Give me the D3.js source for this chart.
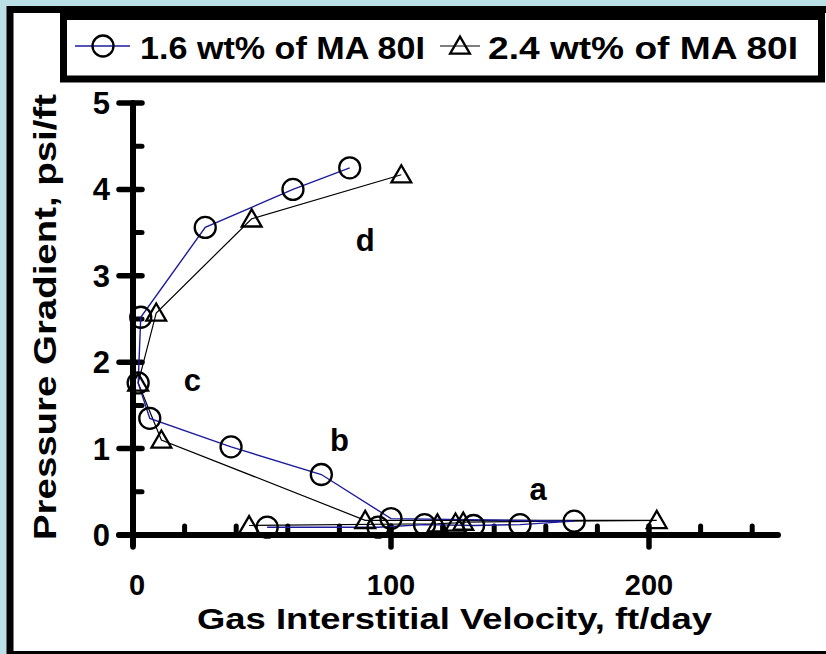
<!DOCTYPE html>
<meta charset="utf-8">
<script src="https://d3js.org/d3.v7.min.js"></script>
<style>
  body { margin: 0; background: #badfe4; }
  text { font-family: "Liberation Sans", Arial, sans-serif; font-weight: bold; fill: #000; }
</style>
<div id="chart"></div>
<script>
// 1.6 wt% of MA 80I (circles), in the order the line joins them
var velA = [84, 62, 28, 3, 2, 6.5, 38, 73, 100, 171, 150, 132, 113, 95, 52];
var gradA = [4.25, 4.0, 3.56, 2.52, 1.76, 1.35, 1.02, 0.70, 0.19, 0.16, 0.12, 0.11, 0.12, 0.09, 0.09];
// 2.4 wt% of MA 80I (triangles)
var velB = [104, 46, 9, 2, 11, 90, 203, 128, 125, 118, 45];
var gradB = [4.17, 3.66, 2.57, 1.76, 1.10, 0.17, 0.17, 0.15, 0.14, 0.13, 0.11];

var xTicks = [0, 100, 200];
var yTicks = [0, 1, 2, 3, 4, 5];
var regions = [{t: "d", x: 90, y: 3.29}, {t: "c", x: 23, y: 1.67}, {t: "b", x: 80, y: 0.97}, {t: "a", x: 157, y: 0.40}];

var width = 826, height = 654;
var svg = d3.select("#chart").append("svg").attr("width", width).attr("height", height);

svg.append("rect").attr("width", width).attr("height", height).attr("fill", "#badfe4");
// white panel
svg.append("rect").attr("x", 10).attr("y", 9.5).attr("width", 830).attr("height", 645)
  .attr("fill", "white").attr("stroke", "black").attr("stroke-width", 7);

var x = d3.scaleLinear().domain([0, 250]).range([133, 778]);
var y = d3.scaleLinear().domain([0, 5]).range([535, 103]);

var axes = svg.append("g").attr("stroke", "black").attr("stroke-linecap", "round");
// y axis line + ticks
axes.append("line").attr("x1", x(0)).attr("x2", x(0)).attr("y1", y(5)).attr("y2", y(0) + 10).attr("stroke-width", 6);
axes.selectAll(".ymaj").data(yTicks).enter().append("line")
  .attr("x1", x(0) - 14).attr("x2", x(0) + 9).attr("y1", d => y(d)).attr("y2", d => y(d)).attr("stroke-width", 5.5);
axes.selectAll(".ymin").data(d3.range(0.5, 5, 1)).enter().append("line")
  .attr("x1", x(0)).attr("x2", x(0) + 9).attr("y1", d => y(d)).attr("y2", d => y(d)).attr("stroke-width", 5);
// x axis line + ticks
axes.append("line").attr("x1", x(0) - 14).attr("x2", x(250)).attr("y1", y(0)).attr("y2", y(0)).attr("stroke-width", 6);
axes.selectAll(".xmaj").data(xTicks).enter().append("line")
  .attr("x1", d => x(d)).attr("x2", d => x(d)).attr("y1", y(0) - 9).attr("y2", y(0) + 12).attr("stroke-width", 5.5);
axes.selectAll(".xmin").data(d3.range(20, 250, 20).filter(d => d % 100 != 0)).enter().append("line")
  .attr("x1", d => x(d)).attr("x2", d => x(d)).attr("y1", y(0) - 9).attr("y2", y(0)).attr("stroke-width", 5);

// tick labels
svg.selectAll(".ylab").data(yTicks).enter().append("text")
  .attr("x", 110).attr("y", d => y(d) + 11).attr("text-anchor", "end")
  .style("font-size", "31px").text(d => d);
svg.selectAll(".xlab").data(xTicks).enter().append("text")
  .attr("x", d => x(d) + (d == 0 ? 4 : 0)).attr("y", 595).attr("text-anchor", "middle")
  .style("font-size", "29px").text(d => d);

// axis titles
svg.append("text").attr("x", 197).attr("y", 629).style("font-size", "30px")
  .attr("textLength", 515).attr("lengthAdjust", "spacingAndGlyphs")
  .text("Gas Interstitial Velocity, ft/day");
svg.append("text").attr("transform", "translate(56,540) rotate(-90)").style("font-size", "31px")
  .attr("textLength", 446).attr("lengthAdjust", "spacingAndGlyphs")
  .text("Pressure Gradient, psi/ft");

// series
var ptsA = velA.map((v, i) => [v, gradA[i]]);
var ptsB = velB.map((v, i) => [v, gradB[i]]);
var line = d3.line().x(d => x(d[0])).y(d => y(d[1]));

svg.append("path").datum(ptsB).attr("d", line).attr("fill", "none").attr("stroke", "black").attr("stroke-width", 1.2);
svg.append("path").datum(ptsA).attr("d", line).attr("fill", "none").attr("stroke", "#1c1c9c").attr("stroke-width", 1.4);

var tri = d3.symbol().type(d3.symbolTriangle).size(170);
svg.selectAll(".tri").data(ptsB).enter().append("path")
  .attr("d", tri).attr("transform", d => "translate(" + x(d[0]) + "," + (y(d[1]) + 2) + ")")
  .attr("fill", "none").attr("stroke", "black").attr("stroke-width", 2.3);
svg.selectAll(".circ").data(ptsA).enter().append("circle")
  .attr("cx", d => x(d[0])).attr("cy", d => y(d[1])).attr("r", 10.5)
  .attr("fill", "none").attr("stroke", "black").attr("stroke-width", 2.3);

// region letters
svg.selectAll(".reg").data(regions).enter().append("text")
  .attr("x", d => x(d.x)).attr("y", d => y(d.y)).attr("text-anchor", "middle")
  .style("font-size", "31px").text(d => d.t);

// legend
var leg = svg.append("g");
leg.append("rect").attr("x", 63.5).attr("y", 16.5).attr("width", 758).attr("height", 62.5)
  .attr("fill", "white").attr("stroke", "black").attr("stroke-width", 7);
leg.append("line").attr("x1", 75).attr("x2", 130).attr("y1", 46).attr("y2", 46).attr("stroke", "#1c1c9c").attr("stroke-width", 1.4);
leg.append("circle").attr("cx", 103).attr("cy", 46).attr("r", 10.5).attr("fill", "none").attr("stroke", "black").attr("stroke-width", 2.3);
leg.append("text").attr("x", 140).attr("y", 59).style("font-size", "32px")
  .attr("textLength", 285).attr("lengthAdjust", "spacingAndGlyphs").text("1.6 wt% of MA 80I");
leg.append("line").attr("x1", 440).attr("x2", 480).attr("y1", 46).attr("y2", 46).attr("stroke", "black").attr("stroke-width", 1.2);
leg.append("path").attr("d", tri).attr("transform", "translate(460,48)")
  .attr("fill", "none").attr("stroke", "black").attr("stroke-width", 2.3);
leg.append("text").attr("x", 488).attr("y", 59).style("font-size", "32px")
  .attr("textLength", 310).attr("lengthAdjust", "spacingAndGlyphs").text("2.4 wt% of MA 80I");
</script>
